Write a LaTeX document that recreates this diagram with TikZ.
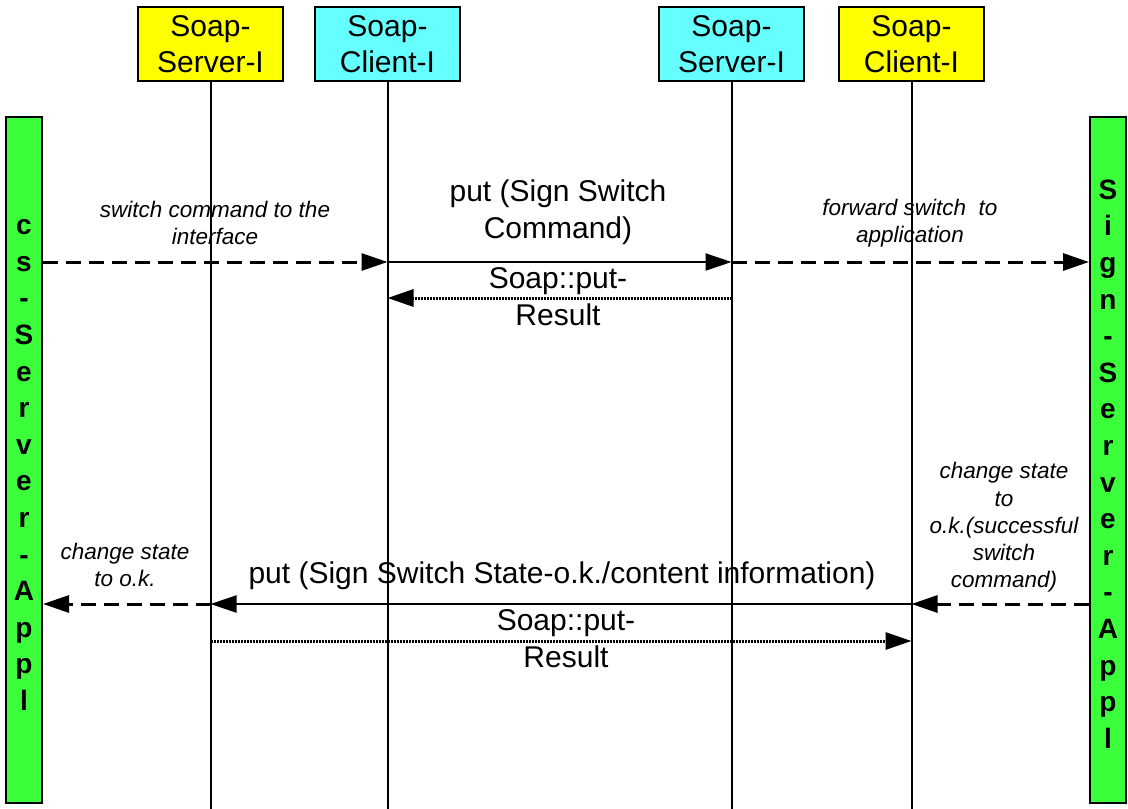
\documentclass[tikz,border=0pt]{standalone}
\usepackage{fontspec}
\setmainfont{Liberation Sans}
\usetikzlibrary{arrows.meta}
\definecolor{hdryellow}{HTML}{FFFF00}
\definecolor{hdrcyan}{HTML}{66FFFF}
\definecolor{applgreen}{HTML}{3CFF3C}

\begin{document}
\begin{tikzpicture}[x=1pt,y=-1pt,
  hdr/.style={draw=black, line width=2pt, minimum width=145pt, minimum height=74pt,
    align=center, font=\fontsize{30}{36}\selectfont, inner sep=0pt},
  applbar/.style={draw=black, line width=2pt, fill=applgreen, minimum width=36pt,
    minimum height=686pt, inner sep=0pt},
  appltext/.style={align=center, font=\fontsize{28}{36.6}\selectfont\bfseries, inner sep=0pt},
  life/.style={line width=2pt},
  tip/.style={-{Triangle[length=26pt,width=17pt]}},
  call/.style={tip, line width=2pt},
  fwd/.style={tip, line width=3pt, dash pattern=on 15pt off 8pt},
  reply/.style={tip, line width=3pt, dash pattern=on 2pt off 1pt},
  msg/.style={align=center, font=\fontsize{30}{37}\selectfont, inner sep=0pt},
  note/.style={align=center, font=\fontsize{22.5}{27.3}\selectfont\itshape, inner sep=0pt},
]
\useasboundingbox (0,0) rectangle (1128,809);

% lifeline heads
\node[hdr, fill=hdryellow] (ss1) at (210.5,44) {Soap-\\Server-I};
\node[hdr, fill=hdrcyan]   (sc1) at (387.5,44) {Soap-\\Client-I};
\node[hdr, fill=hdrcyan]   (ss2) at (731.5,44) {Soap-\\Server-I};
\node[hdr, fill=hdryellow] (sc2) at (911.5,44) {Soap-\\Client-I};

% application bars with their names written downwards
\node[applbar] (csapp) at (24,460) {};
\node[appltext] (cstext) at (24,465)
  {c\\s\\-\\S\\e\\r\\v\\e\\r\\-\\A\\p\\p\\l};
\node[applbar] (signapp) at (1108,460) {};
\node[appltext] (signtext) at (1108,464)
  {S\\i\\g\\n\\-\\S\\e\\r\\v\\e\\r\\-\\A\\p\\p\\l};

% rows of the messages
\coordinate (bot) at (0,809);
\coordinate (r1)  at (0,262);
\coordinate (r1b) at (0,298);
\coordinate (r2)  at (0,604);
\coordinate (r2b) at (0,641);

% lifelines
\foreach \h in {ss1,sc1,ss2,sc2}
  \draw[life] (\h.south) -- (\h.south |- bot);

% request towards the sign server
\draw[fwd]   (csapp.east |- r1) -- (sc1.south |- r1);
\draw[call]  (sc1.south |- r1) -- (ss2.south |- r1);
\draw[fwd]   (ss2.south |- r1) -- (signapp.west |- r1);
\draw[reply] (ss2.south |- r1b) -- (sc1.south |- r1b);

% state report back to the cs server
\draw[fwd]   (signapp.west |- r2) -- (sc2.south |- r2);
\draw[call]  (sc2.south |- r2) -- (ss1.south |- r2);
\draw[fwd]   (ss1.south |- r2) -- (csapp.east |- r2);
\draw[reply] (ss1.south |- r2b) -- (sc2.south |- r2b);

% labels
\node[note] (n1) at (215,223) {switch command to the\\interface};
\node[msg]  (m1) at (558,212.5) {put (Sign Switch\\Command)};
\node[msg]  (m2) at (558,296.5) {Soap::put-\\Result};
\node[note] (n2) at (910,223) {forward switch\ \ to\\application};
\node[note] (n3) at (1004,527.5) {change state\\to\\o.k.(successful\\switch\\command)};
\node[note] (n4) at (125,565) {change state\\to o.k.};
\node[msg]  (m3) at (562,576) {put (Sign Switch State-o.k./content information)};
\node[msg]  (m4) at (566,638.5) {Soap::put-\\Result};
\end{tikzpicture}
\end{document}
